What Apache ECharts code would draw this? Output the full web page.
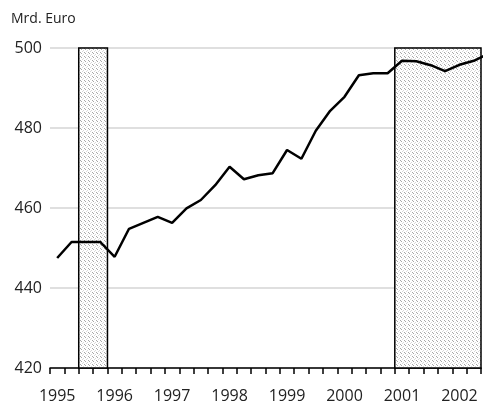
<!DOCTYPE html>
<html><head><meta charset="utf-8">
<script src="https://cdn.jsdelivr.net/npm/echarts@6/dist/echarts.min.js"></script>
<style>html,body{margin:0;padding:0;background:#fff}#c{width:488px;height:405px}</style>
</head><body><div id="c"></div>
<script>
// Quarterly categories 1995Q1 .. 2002Q2 (axis), line continues one quarter beyond
const years = ['1995','1996','1997','1998','1999','2000','2001','2002'];
const categories = [];
years.forEach(y => { for (let q = 1; q <= 4; q++) categories.push(y + ' Q' + q); });
const axisCategories = categories.slice(0, 30);
const values = [447.5, 451.5, 451.5, 451.5, 447.8, 454.8, 456.3, 457.8, 456.3, 459.9,
  462.0, 465.7, 470.3, 467.2, 468.2, 468.7, 474.5, 472.3, 479.3, 484.3,
  487.8, 493.2, 493.7, 493.7, 496.8, 496.7, 495.7, 494.2, 495.8, 496.8, 498.5];
const shadedPeriods = [['1995 Q3', '1995 Q4'], ['2001 Q1', '2002 Q2']];
const yTicks = [420, 440, 460, 480, 500];

const FONT = 'Open Sans';
// dotted hatch pattern
const pc = document.createElement('canvas');
pc.width = 4; pc.height = 4;
const g = pc.getContext('2d');
g.fillStyle = '#ffffff'; g.fillRect(0, 0, 4, 4);
g.fillStyle = '#a8a8a8';
g.fillRect(0, 0, 1, 1); g.fillRect(1, 1, 1, 1);
g.fillStyle = '#d8d8d8';
g.fillRect(3, 2, 1, 1); g.fillRect(2, 3, 1, 1);

const idx = c => categories.indexOf(c);
const areas = shadedPeriods.map(p => [
  { xAxis: idx(p[0]), yAxis: yTicks[yTicks.length - 1] },
  { xAxis: idx(p[1]) + 1, yAxis: yTicks[0] }
]);

const chart = echarts.init(document.getElementById('c'), null, { renderer: 'canvas' });
chart.setOption({
  animation: false,
  title: { text: 'Mrd. Euro', left: 6, top: 7, textStyle: { fontFamily: FONT, fontSize: 14, fontWeight: 'normal', color: '#222' } },
  grid: { left: 50, right: 7, top: 48, bottom: 37 },
  xAxis: [{
    type: 'category', data: axisCategories, boundaryGap: true,
    axisLine: { show: true, lineStyle: { color: '#000', width: 1.5 } },
    axisTick: { show: true, interval: 0, length: 6, lineStyle: { color: '#000', width: 1.5 } },
    axisLabel: { interval: 3, margin: 20, fontFamily: FONT, fontSize: 16, color: '#222',
      formatter: v => v.slice(0, 4) },
    splitLine: { show: false }
  }, {
    type: 'value', min: 0, max: 30, show: false
  }],
  yAxis: {
    type: 'value', min: yTicks[0], max: yTicks[yTicks.length - 1], interval: 20,
    axisLine: { show: false }, axisTick: { show: false },
    axisLabel: { margin: 8, fontFamily: FONT, fontSize: 16, color: '#222' },
    splitLine: { lineStyle: { color: '#d4d4d4', width: 1.5 } }
  },
  series: [{
    type: 'line', xAxisIndex: 1, data: [], z: 1, silent: true,
    markArea: {
      silent: true,
      itemStyle: { color: { image: pc, repeat: 'repeat' }, borderColor: '#000', borderWidth: 1.5 },
      data: areas
    }
  }, {
    type: 'line', xAxisIndex: 1, z: 5, clip: false,
    data: values.map((v, i) => [i + 0.5, v]),
    showSymbol: false, symbol: 'none',
    lineStyle: { color: '#000', width: 2.5 }
  }]
});
</script></body></html>
